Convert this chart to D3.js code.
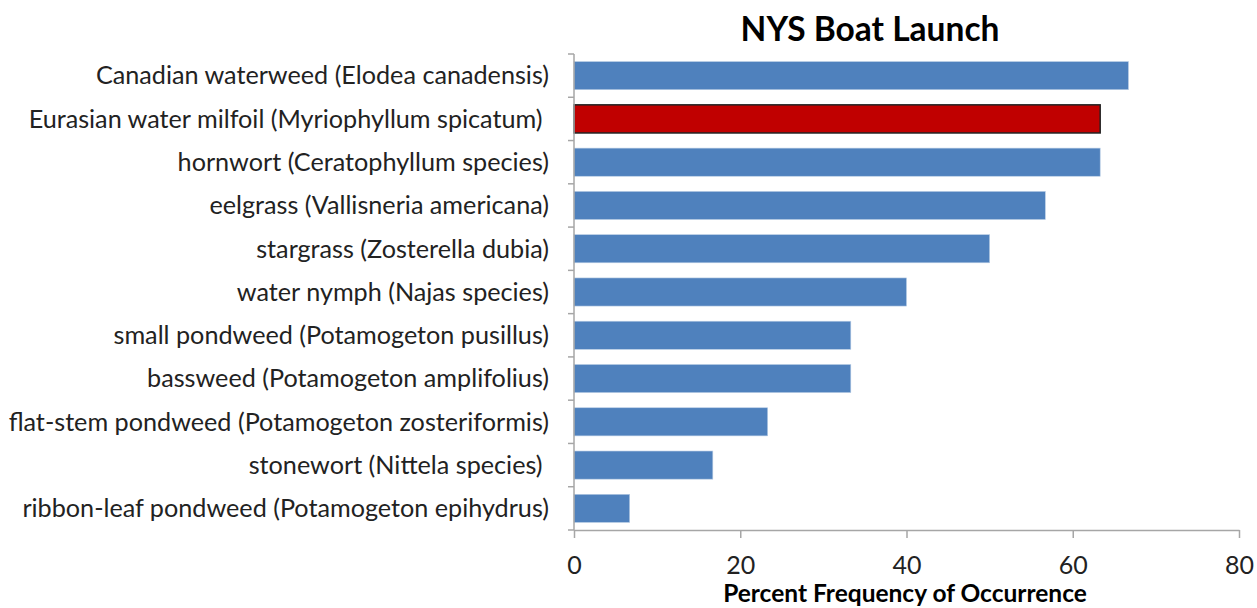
<!DOCTYPE html>
<html>
<head>
<meta charset="utf-8">
<script src="https://cdn.jsdelivr.net/npm/d3@7"></script>
<style>
  body { margin: 0; background: #fff; }
  text { font-family: Lato, "Open Sans", sans-serif; }
</style>
</head>
<body>
<svg id="chart"></svg>
<script>
const species = [
  'Canadian waterweed (Elodea canadensis)',
  'Eurasian water milfoil (Myriophyllum spicatum) ',
  'hornwort (Ceratophyllum species)',
  'eelgrass (Vallisneria americana)',
  'stargrass (Zosterella dubia)',
  'water nymph (Najas species)',
  'small pondweed (Potamogeton pusillus)',
  'bassweed (Potamogeton amplifolius)',
  'flat-stem pondweed (Potamogeton zosteriformis)',
  'stonewort (Nittela species) ',
  'ribbon-leaf pondweed (Potamogeton epihydrus)'
];
const frequency = [66.7, 63.3, 63.3, 56.7, 50, 40, 33.3, 33.3, 23.3, 16.7, 6.7];
const highlighted = ['Eurasian water milfoil (Myriophyllum spicatum) '];
const xTicks = [0, 20, 40, 60, 80];

const width = 1257, height = 608;
const margin = { top: 54, right: 18, bottom: 78, left: 574 };

const svg = d3.select('#chart')
  .attr('width', width)
  .attr('height', height);

const x = d3.scaleLinear()
  .domain([0, 80])
  .range([margin.left, width - margin.right]);

const y = d3.scaleBand()
  .domain(species)
  .range([margin.top, height - margin.bottom])
  .paddingInner(0.35)
  .paddingOuter(0.175);

// bars
svg.append('g')
  .selectAll('rect')
  .data(species)
  .enter()
  .append('rect')
  .attr('x', x(0))
  .attr('y', d => y(d))
  .attr('width', (d, i) => x(frequency[i]) - x(0))
  .attr('height', y.bandwidth())
  .attr('fill', d => highlighted.includes(d) ? '#c00000' : '#4f81bd')
  .attr('stroke', d => highlighted.includes(d) ? '#222' : '#b9cde5')
  .attr('stroke-width', d => highlighted.includes(d) ? 1.5 : 0.6);

// x axis
const xAxis = svg.append('g')
  .attr('transform', `translate(0,${height - margin.bottom})`)
  .call(d3.axisBottom(x).tickValues(xTicks).tickSize(8).tickPadding(18).tickSizeOuter(0));
xAxis.selectAll('line, path').attr('stroke', '#a6a6a6').attr('stroke-width', 1.5);
xAxis.selectAll('text')
  .attr('font-size', 25)
  .attr('fill', '#222')
  .style('font-family', 'Lato, sans-serif');

// y axis: ticks on category boundaries
const step = y.step();
const boundaries = d3.range(species.length + 1).map(i => y.range()[0] + i * step);
const yAxis = svg.append('g');
yAxis.append('line')
  .attr('x1', x(0)).attr('x2', x(0))
  .attr('y1', boundaries[0]).attr('y2', boundaries[boundaries.length - 1])
  .attr('stroke', '#a6a6a6').attr('stroke-width', 1.5);
yAxis.selectAll('line.tick')
  .data(boundaries)
  .enter()
  .append('line')
  .attr('class', 'tick')
  .attr('x1', x(0) - 6).attr('x2', x(0))
  .attr('y1', d => d).attr('y2', d => d)
  .attr('stroke', '#a6a6a6').attr('stroke-width', 1.5);

yAxis.selectAll('text')
  .data(species)
  .enter()
  .append('text')
  .attr('x', x(0) - 25)
  .attr('y', d => y(d) + y.bandwidth() / 2)
  .attr('dy', '0.35em')
  .attr('text-anchor', 'end')
  .attr('font-size', 25.2)
  .attr('fill', '#222')
  .style('white-space', 'pre')
  .text(d => d);

// title
svg.append('text')
  .attr('x', 870)
  .attr('y', 41)
  .attr('text-anchor', 'middle')
  .attr('font-size', 33.5)
  .attr('font-weight', 'bold')
  .attr('fill', '#000')
  .text('NYS Boat Launch');

// x axis title
svg.append('text')
  .attr('x', 905)
  .attr('y', 602)
  .attr('text-anchor', 'middle')
  .attr('font-size', 24.5)
  .attr('font-weight', 'bold')
  .attr('fill', '#000')
  .text('Percent Frequency of Occurrence');
</script>
</body>
</html>
